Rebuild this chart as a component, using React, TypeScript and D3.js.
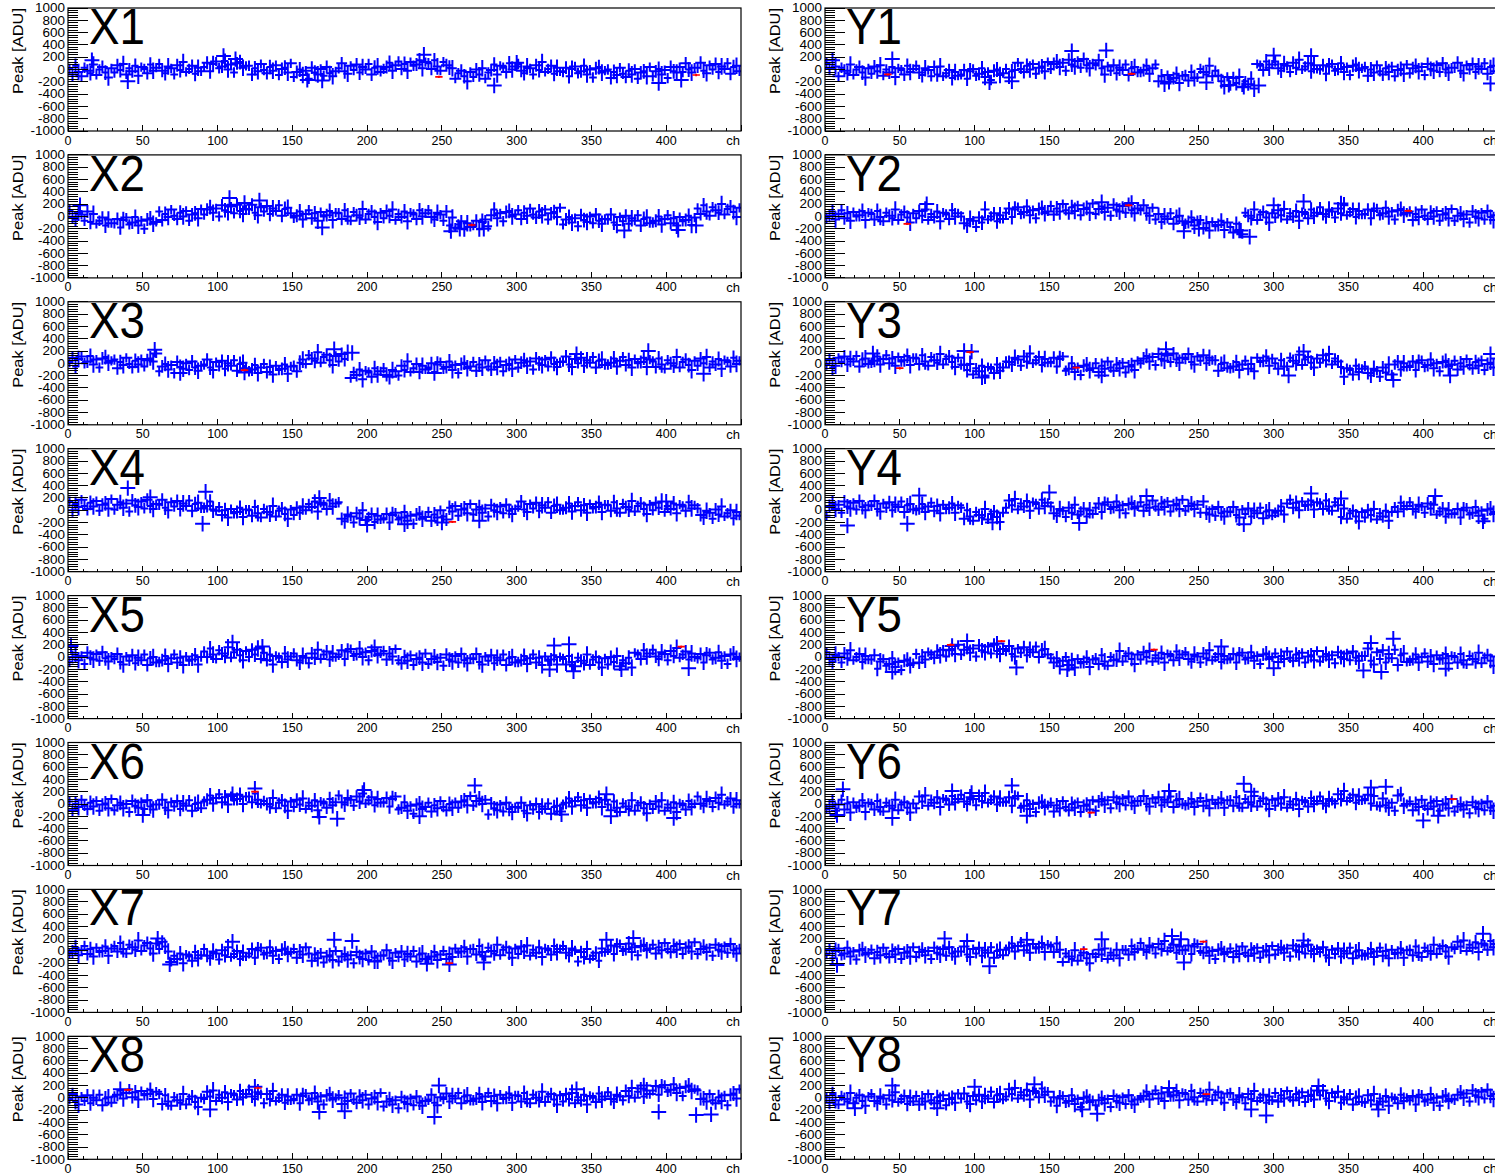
import React from "react";
import * as d3 from "d3";

// ---------- axis / layout constants ----------
const CH_MIN = 0;
const CH_MAX = 450;
const CH_STEP = 2; // one stored value per 2 channels
const ADU_UNIT = 10; // stored values are in units of 10 ADU
const Y_MIN = -1000;
const Y_MAX = 1000;
const X_TICKS = [0, 50, 100, 150, 200, 250, 300, 350, 400];
const Y_TICKS = [1000, 800, 600, 400, 200, 0, -200, -400, -600, -800, -1000];
const X_TITLE = "ch";
const Y_TITLE = "Peak [ADU]";
const LEFT_NAMES = ["X1", "X2", "X3", "X4", "X5", "X6", "X7", "X8"];
const RIGHT_NAMES = ["Y1", "Y2", "Y3", "Y4", "Y5", "Y6", "Y7", "Y8"];

// ---------- data (tens of ADU, every 2 channels) ----------
const X1 = [1,-8,6,-4,-11,3,-2,-6,8,-9,0,4,-5,-13,2, -5,7,-1,9,-8,2,-3,6,-10,4,1,-6,8,-2,3, 9,-2,-6,5,2,-8,7,-1,12,-4,1,6,-7,3,-3, 4,11,-3,9,13,2,5,14,0,8,-5,10,12,3,6, 6,-8,2,-3,9,-1,-6,4,-2,7,-9,1,3,-5,10, -12,-4,0,-9,-2,-15,3,-5,-8,1,-10,4,-6,-11,-3, 2,10,-3,-7,6,-1,8,-5,4,0,9,-8,3,5,-4, 1,4,11,-2,7,13,1,9,-2,12,6,8,15,2,12, 10,1,15,5,-2,12,7,3,2,-15,-6,-2,-11,-19,-4, -12,0,-8,2,-15,-5,-1,8,-8,6,3,-4,10,0,5, 9,-2,-6,5,2,-8,7,-1,12,-4,1,6,-7,3,-3, -4,3,-11,1,5,-6,-3,6,-8,0,-13,2,4,-5,-2, 0,-14,-4,-9,3,-7,-12,-2,-8,1,-15,-5,-3,-11,4, -11,-3,1,-8,-1,-14,4,-3,-5,4,-4,10,0,-5,3, 3,11,-2,-6,7,0,9,-4,5,1,10,-7,4,6,-3];
const X2 = [10,-1,-5,6,3,-7,8,-9,4,-12,-7,-2,-15,-5,-11, -11,-4,-18,-6,-2,-13,-10,-1,-15,-7,-20,-5,-3,-12,-9, 8,-6,4,-1,11,1,-4,6,0,9,-7,3,5,-3,12, 3,11,15,6,13,0,18,10,7,16,5,19,9,4,12, 11,19,6,2,15,8,17,4,13,9,18,1,12,14,5, -2,1,8,-5,4,10,-3,5,-7,7,0,2,9,-6,6, 5,-4,10,0,-7,7,2,-2,12,-5,4,8,-1,-9,6, -3,9,1,11,-6,4,-1,8,-8,6,3,-4,10,0,5, 10,-1,-5,6,3,-7,8,-15,-2,-18,-13,-8,-21,-11,-17, -14,-7,-21,-9,-5,-16,2,11,-3,5,-8,7,9,0,3, 10,-4,6,1,13,3,-2,8,2,11,-5,5,7,-1,14, -13,-5,-1,-10,-3,-16,2,-6,-9,0,-11,3,-7,-12,-4, -5,3,-10,-14,-1,-8,1,-12,-3,-7,2,-15,-4,-2,-11, -10,-7,0,-13,-4,2,-11,-3,-15,-1,-8,-6,1,-14,-2, 13,4,18,8,1,15,10,6,20,3,12,16,7,-1,14];
const X3 = [2,9,-5,7,11,0,3,12,-2,6,-7,8,10,1,4, 6,-8,2,-3,9,-1,-6,4,-2,7,-5,5,8,3,16, -13,-5,-1,-10,-3,-16,2,-6,-9,0,-11,3,-7,-12,-4, -2,6,-7,-11,2,-5,4,-9,0,-4,5,-12,-1,1,-8, -13,-10,-3,-16,-7,-1,-14,-6,-18,-4,-11,-9,-2,-17,-5, -4,-13,1,6,-1,13,8,4,18,1,10,14,5,-3,12, 3,15,7,17,-24,-14,-19,-10,-26,-12,-15,-22,-8,-18,-13, -8,-19,-22,-11,-13,-20,-4,-11,3,-14,-8,-1,-14,-4,-10, -7,0,-14,-2,2,-9,-6,3,-11,-3,-16,-1,1,-8,-5, 2,-12,-2,-7,5,-5,-10,0,-6,3,-13,-3,-1,-9,6, -7,1,5,-4,3,-10,8,0,-3,6,-5,9,-1,-6,2, 3,11,-2,-6,7,0,9,-4,5,1,10,-7,4,6,-3, -2,1,8,-5,4,10,-3,5,-7,7,0,2,9,-6,6, 3,-6,8,-2,-9,5,0,-4,10,-7,2,6,-3,-11,4, -4,8,0,10,-7,3,-2,7,-9,5,2,-5,9,-1,4];
const X4 = [14,0,10,5,17,7,2,12,6,15,-1,9,11,3,18, 1,9,13,4,11,-2,16,8,5,14,3,17,7,2,10, 9,17,4,0,13,6,15,2,11,7,16,-1,10,12,3, 4,7,14,1,-1,5,-8,0,-12,2,-5,-3,4,-11,1, 0,-9,5,-5,-12,2,-3,-7,7,-10,-1,3,-6,-14,1, -8,4,-4,6,0,10,5,14,-2,12,9,2,16,6,11, 13,-14,-18,-7,-10,-20,-5,-13,0,-16,-11,-6,-19,-9,-15, -13,-6,-20,-8,-4,-15,-12,-3,-17,-9,-22,-7,-5,-14,-11, -3,-17,-7,-12,0,-10,-15,4,-2,7,-9,1,3,-5,10, -7,1,5,-4,3,-10,8,0,-3,6,-5,9,-1,-6,2, 6,14,1,-3,10,3,12,-1,8,4,13,-4,7,9,0, 1,4,11,-2,7,13,0,8,-4,10,3,5,12,-3,9, 8,-1,13,3,-4,10,5,1,15,-2,7,11,2,-6,9, 0,12,4,14,-3,7,2,11,-5,9,6,-1,13,3,8, 3,-8,-12,-1,-4,-14,1,-7,6,-10,-5,0,-13,-3,-9];
const X5 = [-8,0,4,-5,2,-11,7,-1,-4,5,-6,8,-2,-7,1, -3,5,-8,-12,1,-6,3,-10,-1,-5,4,-13,-2,0,-9, -8,-5,2,-11,-2,4,-9,-1,-13,1,-6,-4,3,-12,0, 9,0,14,4,-3,11,6,2,16,-1,8,12,3,-5,10, 0,12,4,14,-3,7,-5,4,-12,2,-1,-8,6,-4,1, 6,-5,-9,2,-1,-10,6,-1,12,-3,4,9,-4,6,0, 4,11,-3,9,13,2,5,14,0,8,-5,10,12,3,6, 10,-4,6,1,13,-5,-10,0,-6,3,-13,-3,-1,-9,6, -11,-3,1,-8,-1,-14,4,-4,-7,2,-9,5,-5,-10,-2, -3,5,-8,-12,1,-6,3,-10,-1,-5,4,-13,-2,0,-9, -8,-5,2,-11,-2,4,-9,-1,-13,1,-6,-4,3,-12,0, -3,-12,2,-8,-15,-1,-6,-10,4,-13,-4,0,-9,-17,-2, -12,0,-8,2,-15,-5,-10,-1,-17,7,4,-3,11,1,6, 12,1,-3,8,5,-5,10,2,15,-1,4,9,-4,6,0, -2,5,-9,3,7,-4,-1,8,-6,2,-11,4,6,-3,0];
const X6 = [4,-10,0,-5,7,-3,-8,2,-4,5,-11,-1,1,-7,8, -10,-2,2,-7,0,-13,5,-3,-6,3,-8,6,-4,-9,-1, -1,7,-6,-10,3,-4,5,-8,1,-3,6,-11,0,2,-7, 4,7,14,1,10,16,3,11,-1,13,6,8,15,0,12, 12,3,17,7,0,5,0,-4,10,-7,2,6,-3,-11,4, -5,7,-1,9,-8,2,-3,6,-10,4,1,-6,8,-2,3, 14,3,-1,10,7,-3,12,4,17,1,6,11,-2,8,2, 3,10,-4,8,12,-9,-6,3,-11,-3,-16,-1,1,-8,-5, 2,-12,-2,-7,5,-5,-10,0,-6,3,-6,4,6,-2,13, -3,5,9,0,7,-17,1,-7,-10,-1,-12,2,-8,-13,-5, -6,2,-11,-15,-2,-9,0,-13,-4,-8,1,-16,-5,-3,-12, -1,2,9,-4,5,11,-2,6,-6,8,1,3,10,-5,7, -1,-10,4,-6,-13,1,-4,-8,6,-11,-2,2,-7,-15,0, -8,4,-4,6,-11,-1,-6,3,-13,1,-2,-9,5,-5,0, 12,1,-3,8,5,-5,10,2,15,-1,4,9,-4,6,0];
const X7 = [-4,-1,6,-7,2,8,-5,3,-9,5,-2,0,7,-8,4, 8,-1,13,3,-4,10,6,2,17,0,9,13,4,-4,12, 3,15,7,-1,-18,-8,-13,-4,-20,-6,-9,-16,-2,-12,-7, 3,-8,-12,-1,-4,-14,1,-7,6,-10,-5,0,-13,-3,-9, -4,3,-11,1,5,-6,-3,6,-8,0,-13,2,4,-5,-2, 3,-11,-1,-6,6,-4,-16,-6,-12,-3,-19,-9,-7,-15,0, -17,-9,-5,-14,-7,-20,-2,-10,-13,-4,-15,-1,-11,-16,-8, -7,1,-12,-16,-3,-10,-1,-14,-5,-9,0,-17,-6,-4,-13, -12,-9,-2,-15,-6,0,-13,-5,-10,4,-3,-1,6,-9,3, 3,-6,8,-2,-9,5,0,-4,10,-7,2,6,-3,-11,4, -5,7,-1,9,-8,2,-3,6,-10,4,1,-6,8,-2,3, 8,-3,-7,4,1,-17,-2,-10,3,-13,-8,-3,-16,4,-2, 2,9,-5,7,11,0,3,12,-2,6,-7,8,10,1,4, 10,-4,6,1,13,3,-2,8,2,11,-5,5,7,-1,14, -5,3,7,-2,5,-8,10,2,-1,8,-3,11,1,-4,4];
const X8 = [-2,6,-7,-11,2,-5,4,-9,0,-4,5,-12,-1,1,-8, 2,5,12,-1,8,14,1,9,-3,11,4,6,13,-2,10, 6,-10,4,-6,-13,1,-4,-8,6,-11,-2,2,-7,-15,0, -2,10,2,12,-5,5,0,9,-7,7,4,-3,11,1,6, 13,2,-2,9,6,-9,6,-2,11,-5,0,5,-8,2,-4, -2,5,-9,3,7,-4,-1,8,-6,2,-11,4,6,-3,0, 4,-10,0,-5,7,-3,-8,2,-4,5,-11,-1,1,-7,8, -14,-6,-2,-11,-4,-17,1,-7,-10,-1,-12,2,-8,-13,-5, -3,5,-8,-12,1,-2,7,-6,3,-1,8,-9,2,4,-5, -4,-1,6,-7,2,8,-5,3,-9,5,-2,0,7,-8,4, 3,-6,8,-2,-9,5,0,-4,10,-7,2,6,-3,-11,4, -6,6,-2,8,-9,1,-4,5,-11,3,0,-7,7,-3,2, 9,-2,-6,5,2,-4,11,3,16,0,10,15,2,12,6, 12,19,5,17,21,10,13,22,8,16,3,18,20,11,14, 12,-2,-1,-6,6,-4,-9,1,-5,4,-12,5,7,-1,14];
const Y1 = [10,1,15,5,-11,3,-2,-6,8,-9,0,4,-5,-13,2, -7,5,-3,7,-10,0,-5,4,-12,2,-1,-8,6,-4,1, 6,-5,-9,2,-1,-11,4,-8,5,-11,-6,-1,-14,-4,-10, -8,-1,-15,-3,1,-10,-7,2,-12,-4,-17,-2,0,-9,-6, 1,-13,-3,-1,11,1,-4,6,0,9,-7,3,5,-3,12, 1,9,13,4,11,-2,16,8,5,14,3,17,7,2,10, 7,15,2,-8,5,-2,7,-6,3,-1,8,-9,2,4,-5, -4,-1,6,-7,2,8,-19,-11,-23,-9,-16,-14,-7,-22,-10, -9,-18,-4,-14,-13,1,-4,-8,6,-11,-2,-10,-19,-27,-12, -26,-14,-22,-12,-29,-19,-24,-15,-31,9,6,-1,13,3,8, 13,2,-2,9,6,-4,11,3,16,0,5,10,-3,7,1, 0,7,-7,5,9,-2,1,10,-4,4,-9,6,8,-1,2, 4,-10,0,-5,7,-3,-8,2,-4,5,-11,-1,1,-7,8, -6,2,6,-3,4,-9,9,1,-2,7,-4,10,0,-5,3, 3,11,-2,-6,7,0,9,-4,5,1,10,-7,4,6,-3];
const Y2 = [-2,1,8,-5,4,10,-3,5,-7,7,0,2,9,-6,6, 4,-5,9,-1,-8,6,1,-3,11,-6,3,7,-2,-10,5, -3,9,1,11,-6,4,-1,8,-8,6,3,-4,10,0,5, 0,-11,-15,-4,-7,-17,-2,-10,11,-5,0,5,-8,2,-4, 6,13,-1,11,15,4,7,16,2,10,-3,12,14,5,8, 17,3,13,8,20,10,5,15,9,18,2,12,14,6,21, 4,12,16,7,14,1,19,11,8,17,6,20,10,5,13, 10,18,5,1,14,-5,4,-9,0,-4,5,-12,-1,1,-8, -12,-9,-2,-15,-6,-6,-19,-11,-23,-9,-16,-14,-7,-22,-10, -17,-26,-12,-22,-29,6,1,-3,11,-6,3,7,-2,-10,5, -2,10,2,12,-5,5,0,9,-7,7,4,-3,11,1,6, 15,4,0,11,8,-2,13,5,18,2,7,12,-1,9,3, 4,11,-3,9,13,2,5,14,0,8,-5,10,12,3,6, 8,-6,4,-1,11,1,-4,6,0,9,-7,3,5,-3,12, -7,1,5,-4,3,-10,8,0,-3,6,-5,9,-1,-6,2];
const Y3 = [-2,6,-7,-4,9,2,11,-2,7,3,12,-5,6,8,-1, 1,4,11,-2,7,13,0,8,-4,10,3,5,12,-3,9, 8,-1,13,3,-4,10,5,1,15,-2,7,11,2,-6,9, -2,-3,-11,-1,-18,-8,-13,-4,-20,-6,-9,-16,-2,-12,-7, 3,2,-2,9,6,-4,11,3,16,0,5,10,-3,7,1, 2,9,-5,7,11,-12,-9,0,-14,-6,-19,-4,-2,-11,-8, 0,-14,-4,-9,3,-7,-12,-2,-8,1,-15,-5,-3,-11,4, 0,8,12,3,10,-3,15,7,4,13,2,16,6,1,9, 7,15,2,-2,11,4,13,0,9,5,5,-12,-1,1,-8, -8,-5,2,-11,-2,4,-9,-1,-13,9,2,4,11,-4,8, 0,-9,5,-5,-5,9,4,0,14,-3,6,10,1,-7,8, 1,13,5,15,-2,8,3,-6,-22,-8,-11,-18,-4,-14,-9, -5,-16,-20,-9,-12,-22,-7,-15,-2,-18,-2,3,-10,0,-6, -4,3,-11,1,5,-6,-3,6,-8,0,-13,2,4,-5,-2, 4,-10,0,-5,7,-3,-8,2,-4,5,-11,-1,1,-7,8];
const Y4 = [-9,7,11,2,9,-4,14,6,3,12,1,15,5,0,8, 7,15,2,-2,11,4,13,0,9,5,14,-3,8,10,1, 0,3,10,-3,6,12,-1,7,-5,9,2,4,11,-4,8, 4,-14,0,-10,-17,-3,-8,-12,2,-15,-6,-2,-11,-19,-4, 4,16,8,18,1,11,6,15,-1,13,10,3,17,7,12, 6,-5,-9,2,-1,-11,4,-4,9,-7,-2,3,-10,0,-6, 4,11,-3,9,13,2,5,14,0,8,-5,10,12,3,6, 13,-1,9,4,16,6,1,11,5,14,-2,8,10,2,17, -1,7,11,2,9,-4,14,-4,-7,2,-9,5,-5,-10,-2, -3,5,-8,-12,1,-6,3,-10,-1,-5,4,-13,-2,0,-9, -4,-1,6,-7,11,17,4,12,0,14,7,9,16,1,13, 11,2,16,6,-1,13,8,-11,3,-14,-5,-1,-10,-18,-3, -12,0,-8,2,-15,-5,-10,-1,-17,-3,5,-2,12,2,7, 13,2,-2,9,6,-4,11,3,9,-7,-2,3,-10,0,-6, -5,2,-12,0,4,-7,-4,5,-9,-1,-14,1,3,-6,-3];
const Y5 = [8,-3,-7,4,1,-9,6,-2,11,-5,0,5,-8,2,-4, -4,3,-19,-7,-3,-14,-11,-2,-16,-8,-21,-6,-4,-13,-10, 5,-9,1,-4,8,4,-1,9,3,12,1,11,13,5,20, 4,12,16,7,14,1,19,11,8,17,6,20,10,5,13, 10,18,5,1,14,7,16,3,12,8,17,0,11,13,4, -2,-9,-2,-15,-6,0,-13,-5,-17,-3,-10,-8,-1,-16,-4, -2,-11,3,-7,-14,0,-5,-4,10,-7,2,6,-3,-11,4, -4,8,0,10,-7,3,-2,7,-9,5,2,-5,9,-1,4, 8,-3,-7,4,1,-9,6,-2,11,-5,0,5,-8,2,-4, -2,5,-9,3,7,-4,-1,8,-6,2,-11,4,6,-3,0, 6,-8,2,-3,9,-1,-6,4,-2,7,-9,1,3,-5,10, -7,1,5,-4,3,-10,8,0,-3,6,-5,9,-1,-6,2, 2,14,-6,-12,8,-3,11,-9,5,-2,12,-13,3,6,-8, -6,-3,4,-9,0,6,-7,1,-11,3,-4,-2,5,-10,2, 0,-9,5,-5,-12,2,-3,-7,7,-10,-1,3,-6,-14,1];
const Y6 = [-8,-4,4,-11,-1,7,-9,1,-14,3,-6,-3,6,-13,2, 0,-9,5,-5,-12,2,-3,-7,7,-10,-1,3,-6,-14,1, -7,12,4,14,-3,7,2,11,-5,9,6,-1,13,3,8, 15,4,0,11,8,-2,13,5,18,2,7,12,-1,9,3, 4,11,-3,9,13,-6,-3,6,-8,0,-13,2,4,-5,-2, 2,-12,-2,-7,5,-5,-10,0,-6,3,-13,-3,-1,-9,6, -11,4,8,-1,6,-7,11,3,0,9,-2,12,2,-3,5, 5,13,0,-4,9,2,11,-2,7,3,12,-5,6,8,-1, -2,1,8,-5,4,10,-3,5,-7,7,0,2,9,-6,6, 6,-3,11,1,-6,8,3,-1,13,-4,5,9,0,-8,7, -3,9,1,11,-6,4,-1,8,-8,6,3,-4,10,0,5, 12,1,-3,8,5,1,16,8,21,5,10,15,2,12,6, 8,15,1,13,-3,-4,9,-2,-6,2,-11,14,16,-3,0, 4,-10,0,-5,7,-3,-8,2,-4,5,-11,-1,1,-7,8, -12,-4,0,-9,-2,-15,3,-5,-8,1,-10,4,-6,-11,-3];
const Y7 = [-5,2,-12,0,4,-7,-4,5,-9,-1,-14,1,3,-6,-3, 2,-12,-2,-7,5,-5,-10,0,-6,3,-13,-3,-1,-9,6, -10,-2,2,-7,0,-13,5,-3,-6,3,-8,6,-4,-9,-1, -1,7,-6,-10,3,-4,5,-8,1,-3,6,-11,0,2,-7, 2,5,12,-1,8,14,1,9,-3,11,4,6,13,-2,10, 7,-2,12,2,-18,-4,-9,-13,1,-16,-7,-3,-12,-20,-5, -10,2,-6,4,-13,-3,-7,2,-12,2,1,-6,8,-2,3, 13,2,-2,9,6,-4,11,3,16,0,5,10,-3,7,1, 2,9,-5,7,11,0,-3,6,-8,0,-13,2,4,-5,-2, 4,-10,0,-5,7,-3,-8,2,-4,5,-11,-1,1,-7,8, -6,2,6,-3,4,-9,9,1,-2,7,-4,10,0,-5,3, -2,6,-7,-11,2,-5,4,-9,0,-4,5,-12,-1,1,-8, -7,-4,3,-10,-1,5,-8,0,-12,2,-5,-3,4,-11,1, 2,-7,7,-3,-10,5,0,-4,10,-5,4,8,-1,-9,6, 3,15,7,17,0,10,5,14,-2,12,9,2,16,6,11];
const Y8 = [1,-8,6,-4,-11,3,-2,-6,8,-9,0,4,-5,-13,2, 6,-5,-9,2,-1,-11,4,-4,9,-7,-2,3,-10,0,-6, 3,-11,-1,-6,6,-4,-9,1,-5,4,-12,-2,0,-8,7, -1,7,-6,-10,3,-4,5,-6,3,-1,10,-7,4,6,-3, 2,14,6,16,-1,9,4,13,-3,11,8,1,15,5,10, -6,1,-13,-1,3,-8,-5,4,-10,-2,-15,0,2,-7,-4, -12,-4,0,-9,-2,-15,3,-5,-8,1,-10,4,-6,-11,-3, 0,3,10,-3,6,12,-1,7,-5,9,2,4,11,-4,8, 6,-3,11,1,-6,8,3,-1,13,-4,5,9,0,-8,7, 8,-3,-7,4,1,-9,6,-2,11,-5,0,5,-8,2,-4, 8,-6,4,-1,11,1,-4,6,0,9,-7,3,5,-3,12, 4,12,-1,-5,8,1,10,-8,1,-3,6,-11,0,2,-7, -8,4,-4,6,-11,-1,-6,3,-13,1,-2,-9,5,-5,0, -4,3,-11,1,5,-6,-3,6,-8,0,-13,2,4,-5,-2, -3,5,9,0,7,-6,12,4,1,10,-1,13,3,-2,6];

// large crosses: [channel, ADU]
const X1_WIDE = [[16,150],[40,-190],[104,220],[112,170],[160,-170],[170,-180],[238,240],[285,-260],[300,110],[395,-220],[410,-170]];
const X2_WIDE = [[8,180],[108,300],[118,220],[128,260],[170,-180],[256,-240],[262,-200],[278,-200],[372,-230],[408,-220],[420,-150]];
const X3_WIDE = [[58,220],[75,-160],[118,-150],[178,230],[190,170],[215,-220],[245,-160],[340,150],[388,200],[425,-170]];
const X4_WIDE = [[40,360],[55,210],[92,300],[90,-220],[168,200],[200,-240],[225,-230],[250,-200],[275,-170],[400,140]];
const X5_WIDE = [[2,180],[110,240],[130,170],[205,160],[322,-200],[325,190],[335,210],[338,-230],[370,-200],[415,-180]];
const X6_WIDE = [[50,-180],[110,160],[125,250],[168,-210],[180,-240],[198,230],[235,-200],[272,300],[330,-170],[360,160],[363,-200],[405,-230]];
const X7_WIDE = [[60,200],[68,-220],[110,150],[178,180],[190,160],[205,-170],[240,-210],[255,-220],[278,-190],[360,180],[378,210]];
const X8_WIDE = [[35,140],[95,-190],[125,180],[168,-230],[185,-220],[245,-310],[248,200],[340,140],[385,200],[395,-230],[420,-280],[430,-270]];
const Y1_WIDE = [[5,150],[45,170],[110,-210],[125,-190],[165,300],[188,310],[230,-200],[255,-210],[270,-250],[280,-280],[290,-260],[300,230],[325,220],[445,-230]];
const Y2_WIDE = [[68,200],[185,230],[205,220],[240,-240],[250,-200],[278,-230],[284,-330],[300,180],[320,240],[345,210]];
const Y3_WIDE = [[32,160],[93,200],[98,190],[105,-230],[185,-200],[228,230],[310,-200],[320,190],[380,-270],[418,-200],[445,150]];
const Y4_WIDE = [[15,-250],[55,-220],[63,240],[112,-200],[150,290],[170,-210],[215,230],[280,-230],[325,270],[345,190],[408,230],[440,-180]];
const Y5_WIDE = [[45,-240],[85,180],[95,260],[115,220],[128,-170],[162,-200],[265,170],[300,-180],[360,-220],[365,230],[372,-240],[380,300],[415,-190]];
const Y6_WIDE = [[8,-180],[12,240],[45,-230],[85,210],[98,180],[125,300],[135,-190],[230,210],[280,330],[285,200],[365,270],[375,280],[400,-270],[410,-190]];
const Y7_WIDE = [[8,-230],[80,200],[95,160],[110,-250],[135,180],[185,190],[232,240],[238,190],[240,-190],[320,170],[440,280]];
const Y8_WIDE = [[20,-170],[45,200],[75,-170],[100,180],[140,220],[172,-190],[182,-260],[230,160],[285,-190],[295,-290],[330,190],[370,-190]];

// red markers: [channel, ADU]
const X1_RED = [[248,-120],[420,-90]];
const X2_RED = [[270,-140]];
const X3_RED = [[118,-110]];
const X4_RED = [[257,-190]];
const X5_RED = [[410,170]];
const X6_RED = [[125,200]];
const X7_RED = [[255,-200]];
const X8_RED = [[40,130],[127,160]];
const Y1_RED = [[42,-80],[205,-70]];
const Y2_RED = [[55,-120],[203,180],[390,90]];
const Y3_RED = [[50,-80],[97,180],[168,-70]];
const Y4_RED = [];
const Y5_RED = [[84,200],[118,260],[220,120]];
const Y6_RED = [[178,-140],[420,80]];
const Y7_RED = [[173,30],[253,150]];
const Y8_RED = [[255,60]];

const LEFT_DATA = [X1, X2, X3, X4, X5, X6, X7, X8];
const RIGHT_DATA = [Y1, Y2, Y3, Y4, Y5, Y6, Y7, Y8];
const LEFT_WIDE = [X1_WIDE, X2_WIDE, X3_WIDE, X4_WIDE, X5_WIDE, X6_WIDE, X7_WIDE, X8_WIDE];
const RIGHT_WIDE = [Y1_WIDE, Y2_WIDE, Y3_WIDE, Y4_WIDE, Y5_WIDE, Y6_WIDE, Y7_WIDE, Y8_WIDE];
const LEFT_RED = [X1_RED, X2_RED, X3_RED, X4_RED, X5_RED, X6_RED, X7_RED, X8_RED];
const RIGHT_RED = [Y1_RED, Y2_RED, Y3_RED, Y4_RED, Y5_RED, Y6_RED, Y7_RED, Y8_RED];

// ---------- styling ----------
const W = 1495;
const H = 1175;
const COL_X = [68, 825];
const PW = 673;
const PH = 123;
const ROW_TOP = 8;
const ROW_PITCH = 146.9;
const FONT = "'Liberation Sans', Arial, Helvetica, sans-serif";
const BLUE = "#0000ff";
const RED = "#ff0000";
// marker (error-bar cross) half sizes, cycled for visual variety
const MARK_EX = [2.6, 3.6, 2.2, 3.0, 4.0];   // channels
const MARK_EY = [85, 120, 75, 105, 135];     // ADU

type Pt = number[];

function Panel(props: { id: string; name: string; values: number[]; wide: Pt[]; red: Pt[]; x0: number; top: number }) {
  const { id, name, values, wide, red, x0, top } = props;
  const x = d3.scaleLinear().domain([CH_MIN, CH_MAX]).range([x0, x0 + PW]);
  const y = d3.scaleLinear().domain([Y_MIN, Y_MAX]).range([top + PH, top]);

  const cross = (ch: number, v: number, ex: number, ey: number) =>
    `M${x(ch - ex).toFixed(1)},${y(v).toFixed(1)}H${x(ch + ex).toFixed(1)}M${x(ch).toFixed(1)},${y(v + ey).toFixed(1)}V${y(v - ey).toFixed(1)}`;

  let main = "";
  values.forEach((v, i) => {
    main += cross(i * CH_STEP + CH_STEP / 2, v * ADU_UNIT, MARK_EX[i % 5], MARK_EY[(i * 3) % 5]);
  });
  wide.forEach((p) => {
    main += cross(p[0], p[1], 5, 125);
  });
  let redPath = "";
  red.forEach((p) => {
    redPath += cross(p[0], p[1], 2.5, 20);
  });

  const yMinor = d3.range(Y_MIN, Y_MAX + 1, 40);
  const xMinor = d3.range(CH_MIN, CH_MAX + 1, 10);
  let tickPath = "";
  yMinor.forEach((t) => {
    const isMajor = t % 200 === 0;
    tickPath += `M${x0},${y(t).toFixed(1)}h${isMajor ? 20 : 9.5}`;
  });
  xMinor.forEach((t) => {
    const isMajor = t % 50 === 0;
    tickPath += `M${x(t).toFixed(1)},${top + PH}v${isMajor ? -6 : -3}`;
  });

  const yLabelWidth = (t: number) => String(Math.abs(t)).length * 7.5 + (t < 0 ? 4.5 : 0);

  return (
    <g>
      <defs>
        <clipPath id={id}>
          <rect x={x0} y={top} width={PW} height={PH} />
        </clipPath>
      </defs>
      <g clipPath={`url(#${id})`}>
        <path d={main} stroke={BLUE} strokeWidth={2} fill="none" />
        <path d={redPath} stroke={RED} strokeWidth={1.7} fill="none" />
      </g>
      <path d={tickPath} stroke="#000" strokeWidth={1} fill="none" shapeRendering="crispEdges" />
      <rect x={x0} y={top} width={PW} height={PH} fill="none" stroke="#000" strokeWidth={1.2} />
      {Y_TICKS.map((t) => (
        <text
          key={t}
          x={x0 - 3}
          y={y(t) + 4.2}
          textAnchor="end"
          fontSize={12}
          fontFamily={FONT}
          textLength={yLabelWidth(t)}
          lengthAdjust="spacingAndGlyphs"
        >
          {t}
        </text>
      ))}
      {X_TICKS.map((t) => (
        <text key={t} x={x(t)} y={top + PH + 13.5} textAnchor="middle" fontSize={12.5} fontFamily={FONT}>
          {t}
        </text>
      ))}
      <text x={x0 + PW - 1} y={top + PH + 14} textAnchor="end" fontSize={13} fontFamily={FONT}>
        {X_TITLE}
      </text>
      <text
        transform={`translate(${x0 - 45},${top}) rotate(-90)`}
        textAnchor="end"
        fontSize={14}
        fontFamily={FONT}
        textLength={86}
        lengthAdjust="spacingAndGlyphs"
      >
        {Y_TITLE}
      </text>
      <text x={x0 + 21} y={top + 36} fontSize={50} fontFamily={FONT} textLength={56} lengthAdjust="spacingAndGlyphs">
        {name}
      </text>
    </g>
  );
}

export default function App() {
  const panels: any[] = [];
  LEFT_NAMES.forEach((n, i) => {
    panels.push({ id: `clip-l${i}`, name: n, values: LEFT_DATA[i], wide: LEFT_WIDE[i], red: LEFT_RED[i], x0: COL_X[0], top: ROW_TOP + i * ROW_PITCH });
  });
  RIGHT_NAMES.forEach((n, i) => {
    panels.push({ id: `clip-r${i}`, name: n, values: RIGHT_DATA[i], wide: RIGHT_WIDE[i], red: RIGHT_RED[i], x0: COL_X[1], top: ROW_TOP + i * ROW_PITCH });
  });
  return (
    <svg
      width={W}
      height={H}
      viewBox={`0 0 ${W} ${H}`}
      style={{ position: "absolute", left: 0, top: 0, background: "#fff" }}
    >
      <rect x={0} y={0} width={W} height={H} fill="#fff" />
      {panels.map((p) => (
        <Panel key={p.id} {...p} />
      ))}
    </svg>
  );
}
